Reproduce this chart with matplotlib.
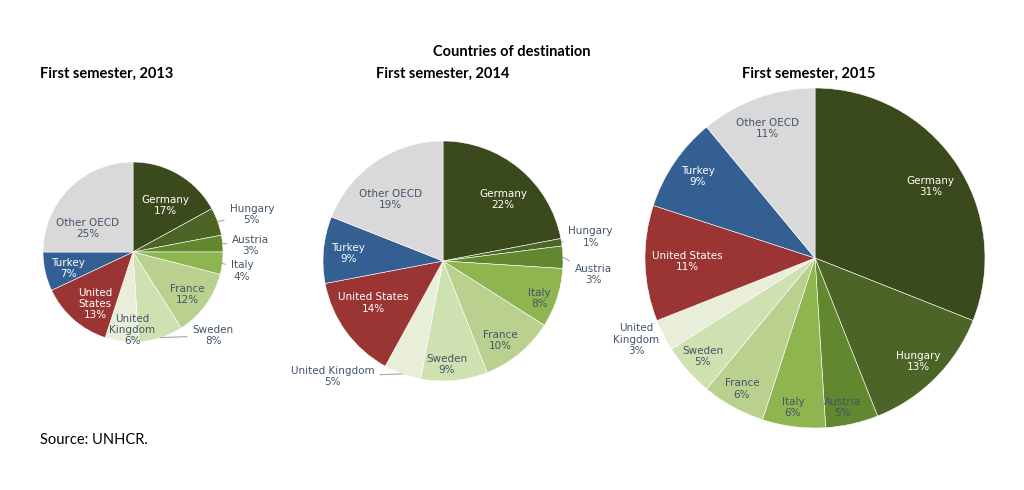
import numpy as np
import matplotlib
matplotlib.use("Agg")
from matplotlib import pyplot as plt

# data
countries = ["Germany", "Hungary", "Austria", "Italy", "France", "Sweden",
             "United Kingdom", "United States", "Turkey", "Other OECD"]
share_2013 = [17, 5, 3, 4, 12, 8, 6, 13, 7, 25]
share_2014 = [22, 1, 3, 8, 10, 9, 5, 14, 9, 19]
share_2015 = [31, 13, 5, 6, 6, 5, 3, 11, 9, 11]
panel_titles = ["First semester, 2013", "First semester, 2014", "First semester, 2015"]

colors = ["#3b4a1d", "#4c6526", "#62882f", "#8fb550", "#b9d08e", "#cfe0b1",
          "#e8eed8", "#9b3533", "#345f92", "#d9d9d9"]
txt_dark = "#44546a"

# label names per panel (line breaks as in the original)
names_2013 = ["Germany", "Hungary", "Austria", "Italy", "France", "Sweden",
              "United\nKingdom", "United\nStates", "Turkey", "Other OECD"]
names_2014 = ["Germany", "Hungary", "Austria", "Italy", "France", "Sweden",
              "United Kingdom", "United States", "Turkey", "Other OECD"]
names_2015 = ["Germany", "Hungary", "Austria", "Italy", "France", "Sweden",
              "United\nKingdom", "United States", "Turkey", "Other OECD"]

# layout (pixels, y measured from top) and label placement in radius units
W, H = 1024, 490
pies = [
    dict(vals=share_2013, names=names_2013, c=(133, 252), r=90, title_x=40,
         pos=[(0.36, 0.52), (1.32, 0.42), (1.31, 0.07), (1.21, -0.21), (0.6, -0.47),
              (0.89, -0.93), (-0.01, -0.87), (-0.42, -0.58), (-0.72, -0.18), (-0.5, 0.26)],
         white=[0, 7, 8], leader=[1, 2, 3, 5]),
    dict(vals=share_2014, names=names_2014, c=(443, 261), r=120, title_x=376,
         pos=[(0.5, 0.51), (1.23, 0.2), (1.25, -0.11), (0.8, -0.31), (0.48, -0.66),
              (0.03, -0.86), (-0.92, -0.96), (-0.58, -0.35), (-0.79, 0.06), (-0.44, 0.51)],
         white=[0, 7, 8], leader=[1, 2, 6]),
    dict(vals=share_2015, names=names_2015, c=(815, 258), r=170, title_x=742,
         pos=[(0.68, 0.42), (0.61, -0.61), (0.16, -0.88), (-0.13, -0.88), (-0.43, -0.77),
              (-0.66, -0.58), (-1.05, -0.48), (-0.75, -0.02), (-0.69, 0.48), (-0.28, 0.76)],
         white=[0, 1, 7, 8], leader=[]),
]

fig = plt.figure(figsize=(W / 100, H / 100), dpi=100, facecolor="white")
ax = fig.add_axes([0, 0, 1, 1])

for k, p in enumerate(pies):
    cx, cy = p["c"][0], H - p["c"][1]
    r = p["r"]
    wedges, _ = ax.pie(p["vals"], colors=colors, startangle=90, counterclock=False,
                       center=(cx, cy), radius=r,
                       wedgeprops=dict(edgecolor="white", linewidth=0.4))
    for i, w in enumerate(wedges):
        label = "%s\n%d%%" % (p["names"][i], p["vals"][i])
        tx, ty = cx + p["pos"][i][0] * r, cy + p["pos"][i][1] * r
        col = "white" if i in p["white"] else txt_dark
        if i in p["leader"]:
            mid = np.deg2rad((w.theta1 + w.theta2) / 2)
            ex, ey = cx + r * np.cos(mid), cy + r * np.sin(mid)
            ax.annotate(label, xy=(ex, ey), xytext=(tx, ty), ha="center", va="center",
                        fontsize=7.5, color=col, linespacing=1.15,
                        arrowprops=dict(arrowstyle="-", color="#a6a6a6", lw=0.8,
                                        shrinkA=2, shrinkB=0))
        else:
            ax.text(tx, ty, label, ha="center", va="center", fontsize=7.5,
                    color=col, linespacing=1.15)
    fig.text(p["title_x"] / W, 1 - 74 / H, panel_titles[k], fontsize=10.5,
             fontweight="bold", family="Lato", ha="left", va="center")

ax.set_xlim(0, W)
ax.set_ylim(0, H)
ax.set_aspect("equal")
ax.axis("off")

fig.text(512 / W, 1 - 52 / H, "Countries of destination", fontsize=10.5, fontweight="bold",
         family="Lato", ha="center", va="center")
fig.text(40 / W, 1 - 440 / H, "Source: UNHCR.", fontsize=10.5, family="Lato",
         ha="left", va="center")

fig.savefig("out.png", dpi=100, facecolor="white")
